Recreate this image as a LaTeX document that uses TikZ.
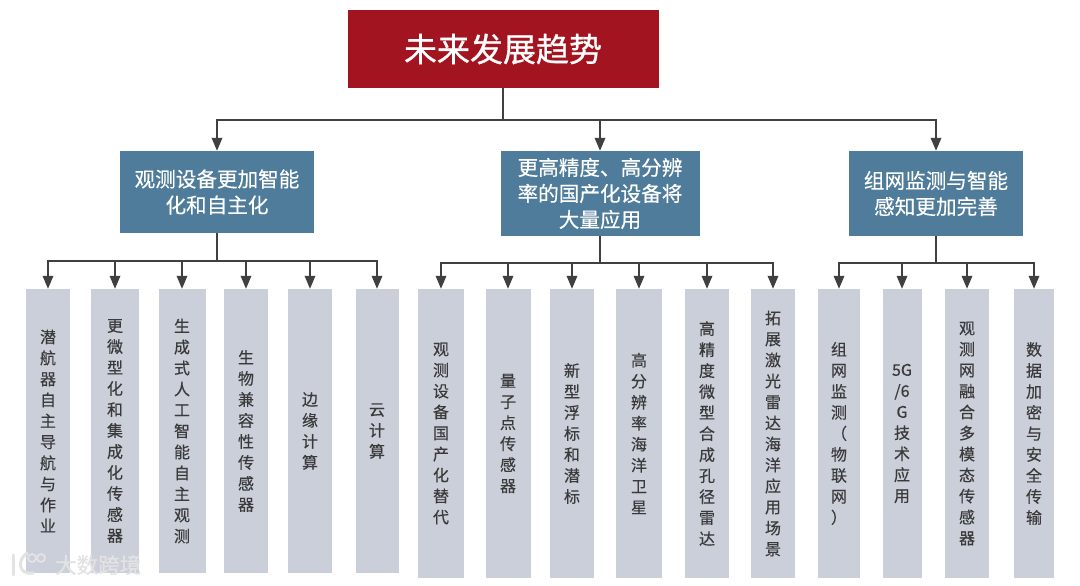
\documentclass[tikz,border=0pt]{standalone}
\usepackage{fontspec}
\setmainfont{Noto Sans CJK SC}[FakeBold=0.35]
\newfontfamily\heavycjk{Noto Sans CJK SC}[FakeBold=0.8]
\usetikzlibrary{arrows.meta}
\definecolor{topred}{HTML}{A21420}
\definecolor{midblue}{HTML}{4E7C9A}
\definecolor{leafgrey}{HTML}{CBCFDA}
\definecolor{leaftext}{HTML}{3A3A3A}
\definecolor{linecol}{HTML}{404040}
\definecolor{markcol}{HTML}{E3E3E3}
\tikzset{
  topbox/.style={fill=topred,text=white,inner sep=0pt,font=\heavycjk\fontsize{33}{38}\selectfont},
  midbox/.style={fill=midblue,text=white,inner sep=0pt,align=center,font=\fontsize{20.6}{26}\selectfont},
  leaf/.style={fill=leafgrey,text=leaftext,inner sep=0pt,align=center,font=\fontsize{16}{21}\selectfont},
  stemlink/.style={draw=linecol,line width=2.2pt},
  arrowlink/.style={draw=linecol,line width=1.8pt,-{Triangle[length=13pt,width=10.5pt]}},
  mark text/.style={text=markcol,inner sep=0pt,font=\heavycjk\fontsize{21.5}{24}\selectfont}
}
\begin{document}
\begin{tikzpicture}[x=1pt,y=-1pt]
\useasboundingbox (0,0) rectangle (1080,586);
\fill[white] (0,0) rectangle (1080,586);
\node[topbox,minimum width=311pt,minimum height=78pt] (top) at (503,49) {未来发展趋势};
\node[midbox,minimum width=194pt,minimum height=82pt] (m1) at (217,192) {观测设备更加智能\\化和自主化};
\node[midbox,minimum width=199pt,minimum height=85pt] (m2) at (600,193.5) {更高精度、高分辨\\率的国产化设备将\\大量应用};
\node[midbox,minimum width=174pt,minimum height=85pt] (m3) at (936,193.5) {组网监测与智能\\感知更加完善};
% first group
\node[leaf,minimum width=44pt,minimum height=284pt] (a1) at (48,431) {潜\\航\\器\\自\\主\\导\\航\\与\\作\\业};
\node[leaf,minimum width=48pt,minimum height=284pt] (a2) at (115,431) {更\\微\\型\\化\\和\\集\\成\\化\\传\\感\\器};
\node[leaf,minimum width=47pt,minimum height=284pt] (a3) at (182,431) {生\\成\\式\\人\\工\\智\\能\\自\\主\\观\\测};
\node[leaf,minimum width=44pt,minimum height=284pt] (a4) at (246,431) {生\\物\\兼\\容\\性\\传\\感\\器};
\node[leaf,minimum width=44pt,minimum height=284pt] (a5) at (310,431) {边\\缘\\计\\算};
\node[leaf,minimum width=43pt,minimum height=284pt] (a6) at (377,431) {云\\计\\算};
% second group
\node[leaf,minimum width=46pt,minimum height=289pt] (b1) at (441,433.5) {观\\测\\设\\备\\国\\产\\化\\替\\代};
\node[leaf,minimum width=45pt,minimum height=289pt] (b2) at (508,433.5) {量\\子\\点\\传\\感\\器};
\node[leaf,minimum width=44pt,minimum height=289pt] (b3) at (572,433.5) {新\\型\\浮\\标\\和\\潜\\标};
\node[leaf,minimum width=46pt,minimum height=289pt] (b4) at (639,433.5) {高\\分\\辨\\率\\海\\洋\\卫\\星};
\node[leaf,minimum width=44pt,minimum height=289pt] (b5) at (707,433.5) {高\\精\\度\\微\\型\\合\\成\\孔\\径\\雷\\达};
\node[leaf,minimum width=44pt,minimum height=289pt] (b6) at (773,433.5) {拓\\展\\激\\光\\雷\\达\\海\\洋\\应\\用\\场\\景};
% third group
\node[leaf,minimum width=42pt,minimum height=289pt] (c1) at (839,433.5) {组\\网\\监\\测\\（\\物\\联\\网\\）};
\node[leaf,minimum width=39pt,minimum height=289pt] (c2) at (902,433.5) {5G\\/6\\G\\技\\术\\应\\用};
\node[leaf,minimum width=44pt,minimum height=289pt] (c3) at (967,433.5) {观\\测\\网\\融\\合\\多\\模\\态\\传\\感\\器};
\node[leaf,minimum width=40pt,minimum height=289pt] (c4) at (1034,433.5) {数\\据\\加\\密\\与\\安\\全\\传\\输};
% connectors
\coordinate (j0) at (top.south |- 0,120);
\coordinate (j1) at (m1.south |- 0,261);
\coordinate (j2) at (m2.south |- 0,263);
\coordinate (j3) at (m3.south |- 0,263);
\foreach \t in {m1,m2,m3} \draw[arrowlink] (j0) -| (\t.north);
\draw[stemlink] (top.south) -- (j0);
\foreach \t in {a1,a2,a3,a4,a5,a6} \draw[arrowlink] (j1) -| (\t.north);
\draw[stemlink] (m1.south) -- (j1);
\foreach \t in {b1,b2,b3,b4,b5,b6} \draw[arrowlink] (j2) -| (\t.north);
\draw[stemlink] (m2.south) -- (j2);
\foreach \t in {c1,c2,c3,c4} \draw[arrowlink] (j3) -| (\t.north);
\draw[stemlink] (m3.south) -- (j3);
% watermark
\node[mark text,anchor=west] (wm) at (55,565) {大数跨境};
\draw[markcol,line width=3pt,line cap=round] (13,555) -- (13,575);
\draw[markcol,line width=3pt,line cap=round] (27,553) .. controls (17,560) and (18,575) .. (33,573);
\draw[markcol,line width=1.8pt] (32,558) circle (4pt) (41,558) circle (4pt);
\end{tikzpicture}
\end{document}
